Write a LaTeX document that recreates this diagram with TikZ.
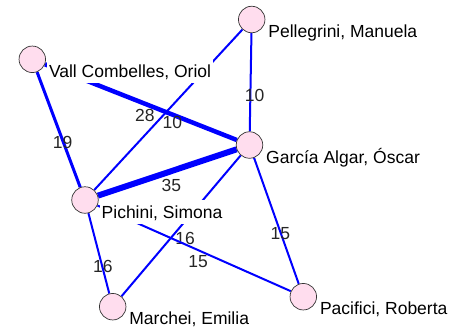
\documentclass[tikz,border=0pt]{standalone}
\usepackage{fontspec}
\setmainfont{Liberation Sans}
\usepackage{xcolor}
\usetikzlibrary{positioning, backgrounds}
\definecolor{nodepink}{RGB}{255,221,238}
\definecolor{tieblue}{RGB}{0,0,255}

\begin{document}
\begin{tikzpicture}[x=1pt, y=-1pt,
    person/.style={circle, draw=black!80, line width=0.7pt, fill=nodepink, minimum size=26.5pt, inner sep=0pt},
    who/.style={anchor=base west, fill=white, inner sep=2pt, text height=16pt, text depth=4pt, font=\fontsize{17.5}{20}\selectfont},
    tie/.style={draw=tieblue, line width=#1},
    tie/.default=2pt,
    weight/.style={midway, xshift=4pt, yshift=-13pt, font=\fontsize{17.5}{20}\selectfont, text=black!85}
]
\useasboundingbox (0,0) rectangle (462,330);

% People
\node[person] (vall) at (32.3,59.3) {};
\node[person] (pel) at (251.7,19.5) {};
\node[person] (gar) at (249.5,145) {};
\node[person] (pic) at (85,200) {};
\node[person] (mar) at (112.7,306.7) {};
\node[person] (pac) at (303.3,296.7) {};

% Names
\node[who] (vallN) at ([shift={(14.5,18)}]vall.center) {Vall Combelles, Oriol};
\node[who] (pelN) at ([shift={(14.5,18)}]pel.center) {Pellegrini, Manuela};
\node[who] (garN) at ([shift={(14.5,18)}]gar.center) {García Algar, Óscar};
\node[who] (picN) at ([shift={(14.5,18)}]pic.center) {Pichini, Simona};
\node[who] (marN) at ([shift={(14.5,18)}]mar.center) {Marchei, Emilia};
\node[who] (pacN) at ([shift={(14.5,18)}]pac.center) {Pacifici, Roberta};

% Ties
\begin{scope}[on background layer]
\draw[tie=3pt] (vall) -- node[weight] (wVP) {19} (pic);
\draw[tie=4.5pt] (vall) -- node[weight] (wVG) {28} (gar);
\draw[tie] (pel) -- node[weight] (wPP) {10} (pic);
\draw[tie] (pel) -- node[weight] (wPG) {10} (gar);
\draw[tie=6pt] (gar) -- node[weight] (wGP) {35} (pic);
\draw[tie] (gar) -- node[weight] (wGM) {16} (mar);
\draw[tie] (gar) -- node[weight] (wGR) {15} (pac);
\draw[tie] (pic) -- node[weight] (wPM) {16} (mar);
\draw[tie] (pic) -- node[weight] (wPR) {15} (pac);
\end{scope}
\end{tikzpicture}
\end{document}
